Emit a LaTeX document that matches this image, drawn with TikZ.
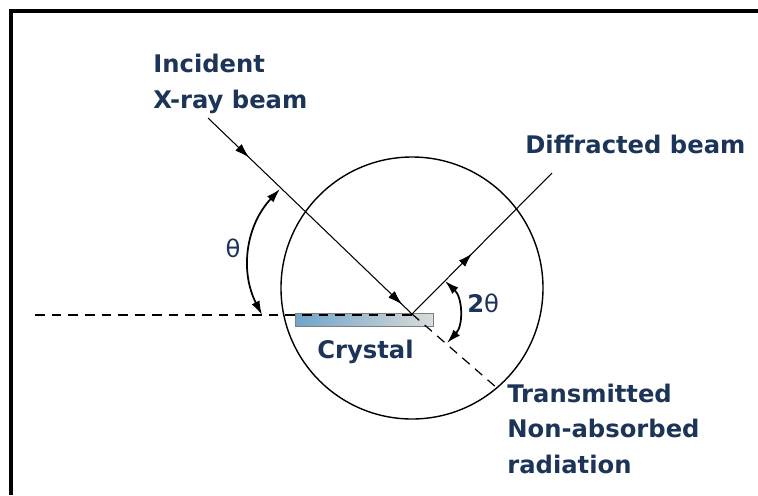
\documentclass[tikz,border=0pt]{standalone}
\usepackage{fontspec}
\setmainfont{DejaVu Sans}
\usetikzlibrary{arrows.meta,decorations.markings}
\definecolor{labelblue}{RGB}{28,52,88}
\definecolor{crystalblue}{RGB}{110,165,200}
\definecolor{crystalgray}{RGB}{218,218,218}
\begin{document}
\begin{tikzpicture}[
        x=0.02cm, y=0.02cm,
        >={Latex[length=8pt,width=5pt]},
        beam/.style={line width=0.6pt},
        dashline/.style={line width=0.7pt, dash pattern=on 5.5pt off 4pt},
        angarrow/.style={<->, line width=1pt},
        lbl/.style={text=labelblue, font=\fontsize{13.8}{20.2}\selectfont\bfseries, align=left, inner sep=0pt},
        arrowat/.style={postaction={decorate},
            decoration={markings, mark=at position #1 with {\arrow{>}}}}
    ]

    % 0. Marco
    \useasboundingbox (0,0) rectangle (758,-495);
    \draw[line width=2.3pt] (11,-495) -- (11,-11) -- (758,-11);

    % 1. Puntos del haz
    \coordinate (src) at (208,-118);
    \coordinate (hit) at (412,-314);
    \coordinate (diff_end) at (552,-173);
    \coordinate (trans_end) at (497,-388);
    \coordinate (horiz_start) at (35,-315);
    \coordinate (horiz_end) at (412,-315);

    % 2. Circulo
    \node[draw, circle, line width=0.8pt, minimum size=262*0.02cm, inner sep=0pt] (circ) at (412,-288) {};

    % 3. Cristal
    \node[draw=gray, line width=0.5pt, left color=crystalblue, right color=crystalgray,
        minimum width=138*0.02cm, minimum height=13*0.02cm, inner sep=0pt] (crystal) at (364,-319.5) {};
    \node[lbl, anchor=base west] (crystal_lbl) at (317,-358) {Crystal};

    % 4. Linea horizontal
    \draw[dashline] (horiz_start) -- (horiz_end);

    % 5. Haz incidente
    \draw[beam, arrowat=0.2, arrowat=0.95] (src) -- (hit);
    \node[lbl, anchor=base west] (incident) at (153,-108) {Incident\\X-ray beam};

    % 6. Haz difractado
    \draw[beam, arrowat=0.43] (hit) -- (diff_end);
    \node[lbl, anchor=base west] (diffracted) at (525,-153) {Diffracted beam};

    % 7. Haz transmitido
    \draw[dashline] (hit) -- (trans_end);
    \node[lbl, anchor=base west] (transmitted) at (507,-473) {Transmitted\\Non-absorbed\\radiation};

    % 8. Angulo theta
    \coordinate (th_top) at (280,-189);
    \coordinate (th_bot) at (262,-315);
    \draw[angarrow] (th_top) to[bend right=35] (th_bot);
    \node[text=labelblue, font=\fontsize{13.8}{16}\selectfont] (theta) at (233,-248) {θ};

    % 9. Angulo 2 theta
    \coordinate (tth_top) at (445,-281);
    \coordinate (tth_bot) at (447,-343);
    \draw[angarrow] (tth_top) to[bend left=45] (tth_bot);
    \node[text=labelblue, font=\fontsize{13.8}{16}\selectfont, anchor=west, inner sep=0pt] (twotheta) at (467,-303) {\textbf{2}θ};

\end{tikzpicture}
\end{document}
